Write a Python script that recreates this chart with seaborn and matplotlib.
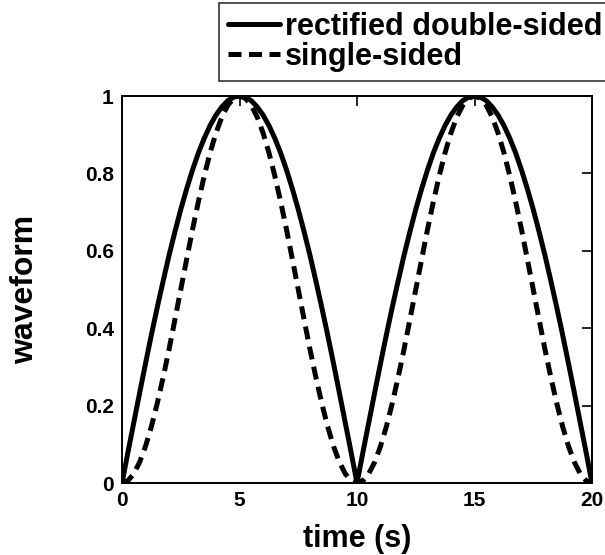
import matplotlib
matplotlib.use("Agg")
import matplotlib.pyplot as plt
import seaborn as sns
import pandas as pd

# Sampled waveforms, t in seconds (0.25 s step)
time_s = [0.0, 0.25, 0.5, 0.75, 1.0, 1.25, 1.5, 1.75, 2.0, 2.25, 2.5, 2.75, 3.0, 3.25, 3.5, 3.75,
          4.0, 4.25, 4.5, 4.75, 5.0, 5.25, 5.5, 5.75, 6.0, 6.25, 6.5, 6.75, 7.0, 7.25, 7.5, 7.75,
          8.0, 8.25, 8.5, 8.75, 9.0, 9.25, 9.5, 9.75, 10.0, 10.25, 10.5, 10.75, 11.0, 11.25, 11.5,
          11.75, 12.0, 12.25, 12.5, 12.75, 13.0, 13.25, 13.5, 13.75, 14.0, 14.25, 14.5, 14.75,
          15.0, 15.25, 15.5, 15.75, 16.0, 16.25, 16.5, 16.75, 17.0, 17.25, 17.5, 17.75, 18.0,
          18.25, 18.5, 18.75, 19.0, 19.25, 19.5, 19.75, 20.0]
double_sided = [0.0, 0.079, 0.156, 0.233, 0.309, 0.383, 0.454, 0.522, 0.588, 0.649, 0.707,
                0.760, 0.809, 0.853, 0.891, 0.924, 0.951, 0.972, 0.988, 0.997, 1.0,
                0.997, 0.988, 0.972, 0.951, 0.924, 0.891, 0.853, 0.809, 0.760, 0.707,
                0.649, 0.588, 0.522, 0.454, 0.383, 0.309, 0.233, 0.156, 0.079, 0.0,
                0.079, 0.156, 0.233, 0.309, 0.383, 0.454, 0.522, 0.588, 0.649, 0.707,
                0.760, 0.809, 0.853, 0.891, 0.924, 0.951, 0.972, 0.988, 0.997, 1.0,
                0.997, 0.988, 0.972, 0.951, 0.924, 0.891, 0.853, 0.809, 0.760, 0.707,
                0.649, 0.588, 0.522, 0.454, 0.383, 0.309, 0.233, 0.156, 0.079, 0.0]
single_sided = [0.0, 0.006, 0.024, 0.054, 0.095, 0.146, 0.206, 0.273, 0.345, 0.422, 0.5,
                0.578, 0.655, 0.727, 0.794, 0.854, 0.905, 0.946, 0.976, 0.994, 1.0,
                0.994, 0.976, 0.946, 0.905, 0.854, 0.794, 0.727, 0.655, 0.578, 0.5,
                0.422, 0.345, 0.273, 0.206, 0.146, 0.095, 0.054, 0.024, 0.006, 0.0,
                0.006, 0.024, 0.054, 0.095, 0.146, 0.206, 0.273, 0.345, 0.422, 0.5,
                0.578, 0.655, 0.727, 0.794, 0.854, 0.905, 0.946, 0.976, 0.994, 1.0,
                0.994, 0.976, 0.946, 0.905, 0.854, 0.794, 0.727, 0.655, 0.578, 0.5,
                0.422, 0.345, 0.273, 0.206, 0.146, 0.095, 0.054, 0.024, 0.006, 0.0]
series_names = ["rectified double-sided", "single-sided"]
x_ticks = [0, 5, 10, 15, 20]
y_ticks = [0, 0.2, 0.4, 0.6, 0.8, 1]
y_tick_labels = ["0", "0.2", "0.4", "0.6", "0.8", "1"]

df = pd.DataFrame({
    "time": time_s * 2,
    "value": double_sided + single_sided,
    "series": [series_names[0]] * len(time_s) + [series_names[1]] * len(time_s),
})

sns.set_style("white")
plt.rcParams["font.family"] = ["Liberation Sans", "DejaVu Sans"]
plt.rcParams["font.weight"] = "bold"
plt.rcParams["text.color"] = "black"
plt.rcParams["axes.labelcolor"] = "black"

fig = plt.figure(figsize=(6.05, 5.55), dpi=100)
ax = fig.add_axes([0.2017, 0.1297, 0.7768, 0.6973])

dash_pattern = (2.6, 1.5)
sns.lineplot(data=df, x="time", y="value", hue="series", style="series",
             palette=["black", "black"],
             dashes={series_names[0]: "", series_names[1]: dash_pattern},
             linewidth=3.6, ax=ax, legend=False)

ax.set_xlim(0, 20)
ax.set_ylim(0, 1)
ax.set_xticks(x_ticks)
ax.set_xticklabels([str(v) for v in x_ticks])
ax.set_yticks(y_ticks)
ax.set_yticklabels(y_tick_labels)
ax.tick_params(direction="in", length=7, width=1.2, top=True, right=True,
               labelsize=15, pad=6, colors="black")
for lab in ax.get_xticklabels() + ax.get_yticklabels():
    lab.set_fontweight("bold")
for sp in ax.spines.values():
    sp.set_linewidth(1.4)
    sp.set_color("black")
ax.set_xlabel("time (s)", fontsize=22, fontweight="bold", labelpad=10, color="black")
ax.set_ylabel("waveform", fontsize=23, fontweight="bold", labelpad=32, color="black")

handles = [plt.Line2D([], [], color="black", lw=3.6),
           plt.Line2D([], [], color="black", lw=3.6, dashes=dash_pattern)]
leg = fig.legend(handles, series_names, loc="upper left",
                 bbox_to_anchor=(219 / 605, 1 - 3 / 555),
                 prop={"size": 22, "weight": "bold"},
                 frameon=True, fancybox=False, handlelength=1.7,
                 handletextpad=0.15, labelspacing=0.0, borderpad=0.3,
                 borderaxespad=0)
leg.get_frame().set_edgecolor("black")
leg.get_frame().set_linewidth(1.2)
for t in leg.get_texts():
    t.set_color("black")

fig.savefig("out.png", dpi=100)
